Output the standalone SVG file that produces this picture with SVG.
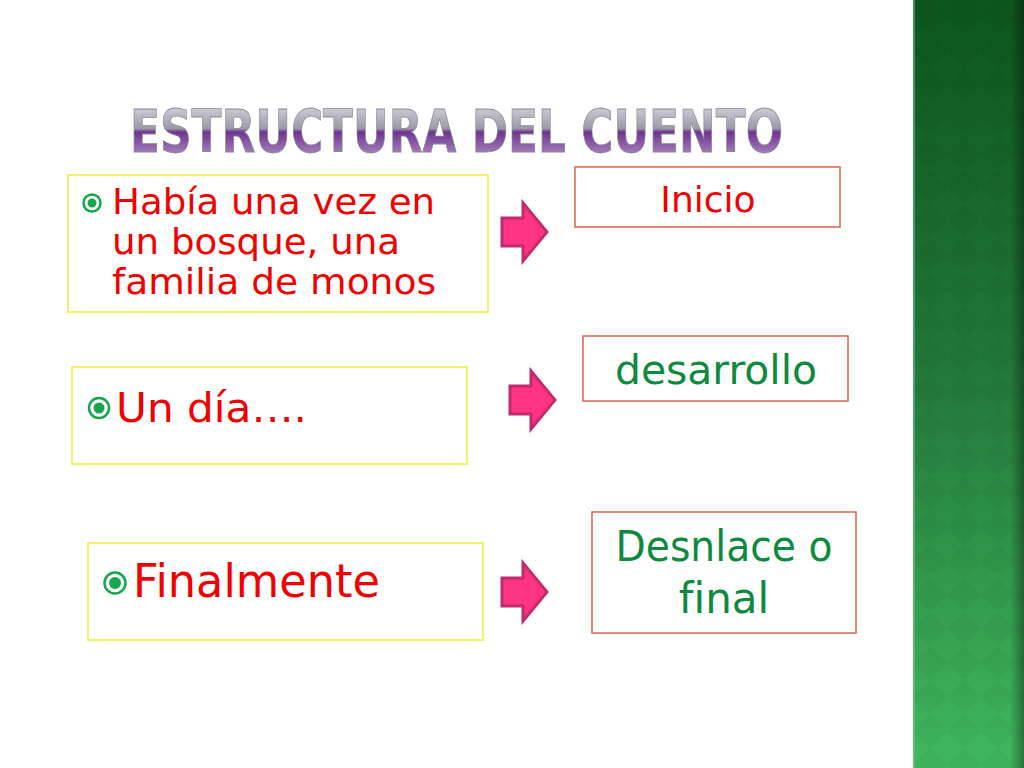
<svg xmlns="http://www.w3.org/2000/svg" width="1024" height="768" viewBox="0 0 1024 768">
<defs>
<linearGradient id="strip" x1="0" y1="0" x2="0" y2="1">
<stop offset="0" stop-color="#0c561d"/>
<stop offset="0.5" stop-color="#237a3a"/>
<stop offset="1" stop-color="#40b85e"/>
</linearGradient>
<linearGradient id="edge" x1="0" y1="0" x2="1" y2="0">
<stop offset="0" stop-color="#000" stop-opacity="0"/>
<stop offset="1" stop-color="#000" stop-opacity="0.35"/>
</linearGradient>
<pattern id="diam" width="34" height="34" patternUnits="userSpaceOnUse" x="913" y="0">
<path d="M17 0 L34 17 L17 34 L0 17 Z" fill="#000" fill-opacity="0.035"/>
</pattern>
<linearGradient id="title" x1="0" y1="0" x2="0" y2="1">
<stop offset="0" stop-color="#e4e4ea"/>
<stop offset="0.45" stop-color="#9c98a8"/>
<stop offset="0.5" stop-color="#6e3490"/>
<stop offset="1" stop-color="#c4a8d2"/>
</linearGradient>
<path id="arrowShape" d="M0 -14 L21 -14 L21 -29 L45 0 L21 29 L21 14 L0 14 Z"/>
</defs>
<style>
.yel{fill:#fff;stroke:#f2f26a;stroke-width:2}
.redb{fill:#fff;stroke:#d9634e;stroke-width:1.5}
.txt{font-family:"DejaVu Sans","Liberation Sans",sans-serif;font-variant-ligatures:none;font-feature-settings:"liga" 0}
.red{fill:#f00000}
.grn{fill:#0e8a3e}
.bul{fill:none;stroke:#14a64a;stroke-width:2.5}
.buld{fill:#14a64a}
.arr{fill:#fe3384;stroke:#c22c6c;stroke-width:3;stroke-linejoin:miter}
</style>
<rect width="1024" height="768" fill="#fff"/>
<g id="sidebar">
<rect x="913" y="0" width="111" height="768" fill="url(#strip)"/>
<rect x="913" y="0" width="111" height="768" fill="url(#diam)"/>
<rect x="1010" y="0" width="14" height="768" fill="url(#edge)"/>
<rect x="913" y="0" width="2" height="768" fill="#6fd08a" fill-opacity="0.5"/>
</g>
<g id="title-text">
<text x="130" y="152" class="txt" font-size="58" font-weight="bold" fill="url(#title)" stroke="#8a8a96" stroke-width="0.8" textLength="653" lengthAdjust="spacingAndGlyphs">ESTRUCTURA DEL CUENTO</text>
</g>
<g id="node-habia">
<rect x="68" y="175" width="420" height="137" class="yel"/>
<circle cx="92" cy="203" r="8.5" class="bul"/><circle cx="92" cy="203" r="4.5" class="buld"/>
<text class="txt red" font-size="35" x="112" y="214" textLength="323" lengthAdjust="spacingAndGlyphs">Había una vez en</text>
<text class="txt red" font-size="35" x="112" y="254" textLength="288" lengthAdjust="spacingAndGlyphs">un bosque, una</text>
<text class="txt red" font-size="35" x="112" y="294" textLength="324" lengthAdjust="spacingAndGlyphs">familia de monos</text>
</g>
<g id="node-undia">
<rect x="72" y="367" width="395" height="97" class="yel"/>
<circle cx="99" cy="408" r="10" class="bul"/><circle cx="99" cy="408" r="5.5" class="buld"/>
<text class="txt red" font-size="40" x="116" y="422" textLength="191" lengthAdjust="spacingAndGlyphs">Un día….</text>
</g>
<g id="node-finalmente">
<rect x="88" y="543" width="395" height="97" class="yel"/>
<circle cx="115" cy="583" r="10.5" class="bul"/><circle cx="115" cy="583" r="6" class="buld"/>
<text class="txt red" font-size="46" x="133" y="597" textLength="247" lengthAdjust="spacingAndGlyphs">Finalmente</text>
</g>
<g id="node-inicio">
<rect x="575" y="167" width="265" height="60" class="redb"/>
<text class="txt red" font-size="36" x="708" y="212" text-anchor="middle">Inicio</text>
</g>
<g id="node-desarrollo">
<rect x="583" y="336" width="265" height="65" class="redb"/>
<text class="txt grn" font-size="40" x="716" y="384" text-anchor="middle" textLength="202" lengthAdjust="spacingAndGlyphs">desarrollo</text>
</g>
<g id="node-desenlace">
<rect x="592" y="512" width="264" height="121" class="redb"/>
<text class="txt grn" font-size="42" x="724" y="561" text-anchor="middle" textLength="217" lengthAdjust="spacingAndGlyphs">Desnlace o</text>
<text class="txt grn" font-size="42" x="724" y="613" text-anchor="middle">final</text>
</g>
<g id="connectors">
<use href="#arrowShape" class="arr" transform="translate(502,232)"/>
<use href="#arrowShape" class="arr" transform="translate(510,400)"/>
<use href="#arrowShape" class="arr" transform="translate(502,592)"/>
</g>
</svg>
